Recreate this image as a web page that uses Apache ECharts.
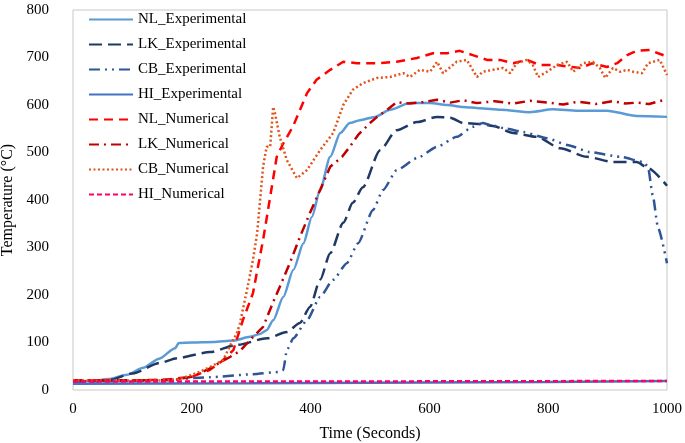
<!DOCTYPE html>
<html>
<head>
<meta charset="utf-8">
<script src="https://cdn.jsdelivr.net/npm/echarts@6/dist/echarts.min.js"></script>
<style>
html,body{margin:0;padding:0;background:#fff;}
#c{width:685px;height:443px;}
</style>
</head>
<body>
<div id="c"></div>
<script>
// ---- Data (time in seconds, temperature in °C) ----
var xTicks = [0, 200, 400, 600, 800, 1000];
var yTicks = [0, 100, 200, 300, 400, 500, 600, 700, 800];

var nlExpTime = [0, 34, 60, 91, 118, 145, 172, 178, 200, 236, 270, 298, 315, 326, 337, 354, 371, 388, 402, 416, 433, 450, 466, 483, 508, 534, 567, 601, 630, 657, 685, 720, 769, 808, 850, 899, 949, 1000];
var nlExpTemp = [18, 19, 23, 32, 47, 66, 88, 99, 100, 101, 104, 112, 118, 126, 147, 196, 253, 309, 364, 421, 491, 541, 562, 568, 575, 590, 604, 604, 600, 596, 593, 590, 585, 591, 588, 588, 577, 575];

var lkExpTime = [0, 30, 62, 100, 146, 175, 231, 276, 327, 360, 382, 399, 416, 433, 455, 471, 488, 517, 545, 579, 613, 635, 657, 685, 707, 741, 781, 820, 865, 909, 949, 966, 1000];
var lkExpTemp = [17, 18, 21, 35, 57, 67, 80, 95, 109, 122, 141, 175, 232, 288, 352, 394, 427, 505, 547, 564, 575, 573, 562, 560, 556, 541, 533, 509, 491, 480, 480, 469, 430];

var cbExpTime = [0, 100, 150, 231, 300, 348, 354, 360, 371, 394, 416, 438, 461, 480, 505, 522, 545, 579, 613, 646, 673, 690, 702, 730, 758, 798, 832, 870, 921, 960, 968, 976, 985, 1000];
var cbExpTemp = [17, 19, 21, 27, 33, 38, 42, 84, 109, 147, 196, 232, 267, 309, 379, 421, 463, 488, 512, 533, 554, 562, 558, 550, 543, 530, 516, 501, 491, 480, 470, 410, 341, 267];

var hiExpTime = [0, 300, 600, 800, 1000];
var hiExpTemp = [13, 14, 16, 17, 19];

var nlNumTime = [0, 150, 200, 230, 250, 270, 286, 303, 320, 332, 343, 354, 370, 382, 394, 410, 433, 455, 478, 512, 545, 579, 606, 630, 651, 673, 697, 719, 741, 764, 786, 815, 854, 875, 899, 916, 933, 949, 971, 985, 1000];
var nlNumTemp = [20, 21, 28, 42, 60, 84, 147, 204, 316, 407, 491, 519, 554, 589, 625, 653, 674, 691, 688, 688, 691, 699, 709, 709, 714, 705, 695, 695, 688, 695, 684, 684, 678, 688, 680, 688, 705, 714, 716, 709, 702];

var lkNumTime = [0, 170, 200, 230, 250, 265, 281, 298, 320, 337, 348, 365, 382, 399, 416, 433, 453, 466, 480, 500, 512, 529, 545, 567, 589, 613, 635, 657, 680, 710, 741, 770, 800, 825, 850, 880, 909, 930, 949, 970, 993, 1000];
var lkNumTemp = [20, 21, 28, 45, 60, 70, 82, 105, 133, 185, 217, 267, 322, 373, 421, 470, 491, 512, 537, 562, 575, 590, 606, 603, 606, 611, 605, 610, 604, 608, 603, 609, 605, 601, 607, 602, 608, 603, 605, 602, 610, 612];

var cbNumTime = [0, 150, 175, 209, 230, 253, 265, 276, 281, 293, 303, 310, 315, 320, 326, 332, 337, 340, 348, 360, 377, 394, 416, 438, 455, 471, 488, 512, 534, 556, 567, 584, 601, 613, 623, 646, 663, 680, 690, 707, 724, 736, 747, 764, 774, 783, 798, 815, 832, 842, 859, 875, 887, 896, 909, 921, 933, 943, 958, 968, 988, 1000];
var cbNumTemp = [20, 20, 21, 36, 48, 63, 95, 120, 140, 211, 274, 330, 400, 470, 512, 512, 596, 583, 533, 484, 446, 463, 505, 541, 600, 632, 646, 657, 659, 667, 659, 674, 670, 691, 667, 691, 695, 659, 670, 674, 678, 667, 688, 695, 684, 659, 670, 684, 691, 670, 688, 691, 678, 657, 678, 670, 674, 670, 667, 688, 695, 663];

var hiNumTime = [0, 500, 1000];
var hiNumTemp = [18, 18, 19];

var seriesNames = ['NL_Experimental', 'LK_Experimental', 'CB_Experimental', 'HI_Experimental',
                   'NL_Numerical', 'LK_Numerical', 'CB_Numerical', 'HI_Numerical'];

// ---- Build ----
function pairs(t, v) { return t.map(function (x, i) { return [x, v[i]]; }); }

var FONT = 'Liberation Serif';
var styles = [
  { color: '#5B9BD5', width: 2.5, type: 'solid' },
  { color: '#1F3864', width: 2.5, type: [13, 6] },
  { color: '#2F5597', width: 2.5, type: [11, 5, 2, 5, 2, 5] },
  { color: '#4472C4', width: 2.5, type: 'solid' },
  { color: '#FF0000', width: 2.5, type: [9, 6] },
  { color: '#C00000', width: 2.5, type: [10, 5, 2, 5] },
  { color: '#E2531B', width: 2.5, type: [2, 2.5] },
  { color: '#FF0066', width: 2.5, type: [5, 3] }
];
var datas = [
  pairs(nlExpTime, nlExpTemp), pairs(lkExpTime, lkExpTemp), pairs(cbExpTime, cbExpTemp), pairs(hiExpTime, hiExpTemp),
  pairs(nlNumTime, nlNumTemp), pairs(lkNumTime, lkNumTemp), pairs(cbNumTime, cbNumTemp), pairs(hiNumTime, hiNumTemp)
];
var smoothFlags = [0.25, 0.25, 0.2, 0, 0, 0, 0, 0];

var series = seriesNames.map(function (n, i) {
  return {
    name: n, type: 'line', data: datas[i],
    symbol: 'none', showSymbol: false,
    smooth: smoothFlags[i], smoothMonotone: 'x',
    itemStyle: { color: styles[i].color },
    lineStyle: { color: styles[i].color, width: styles[i].width, type: styles[i].type },
    z: 2 + i,
    animation: false
  };
});

var chart = echarts.init(document.getElementById('c'), null, { renderer: 'canvas' });
chart.setOption({
  animation: false,
  backgroundColor: '#ffffff',
  textStyle: { fontFamily: FONT },
  grid: { left: 73, right: 18, top: 10, bottom: 53, show: true, borderColor: '#C8C8C8', borderWidth: 1,
          backgroundColor: 'transparent', containLabel: false, outerBoundsMode: 'none' },
  legend: {
    orient: 'vertical', left: 88, top: 12, padding: 0,
    itemWidth: 44, itemHeight: 14, itemGap: 10,
    data: seriesNames,
    itemStyle: { opacity: 0 },
    textStyle: { fontFamily: FONT, fontSize: 15, color: '#000' }
  },
  xAxis: {
    type: 'value', min: xTicks[0], max: xTicks[xTicks.length - 1], interval: 200,
    axisLine: { show: false }, axisTick: { show: false }, splitLine: { show: false },
    axisLabel: { fontFamily: FONT, fontSize: 15, color: '#000', margin: 12, formatter: function (v) { return String(v); } },
    name: 'Time (Seconds)', nameLocation: 'middle', nameGap: 36,
    nameTextStyle: { fontFamily: FONT, fontSize: 16, color: '#000' }
  },
  yAxis: {
    type: 'value', min: yTicks[0], max: yTicks[yTicks.length - 1], interval: 100,
    axisLine: { show: false }, axisTick: { show: false }, splitLine: { show: false },
    axisLabel: { fontFamily: FONT, fontSize: 15, color: '#000', margin: 24, formatter: function (v) { return String(v); } },
    name: 'Temperature (°C)', nameLocation: 'middle', nameRotate: 90, nameGap: 52,
    nameTextStyle: { fontFamily: FONT, fontSize: 16, color: '#000' }
  },
  series: series
});
</script>
</body>
</html>
